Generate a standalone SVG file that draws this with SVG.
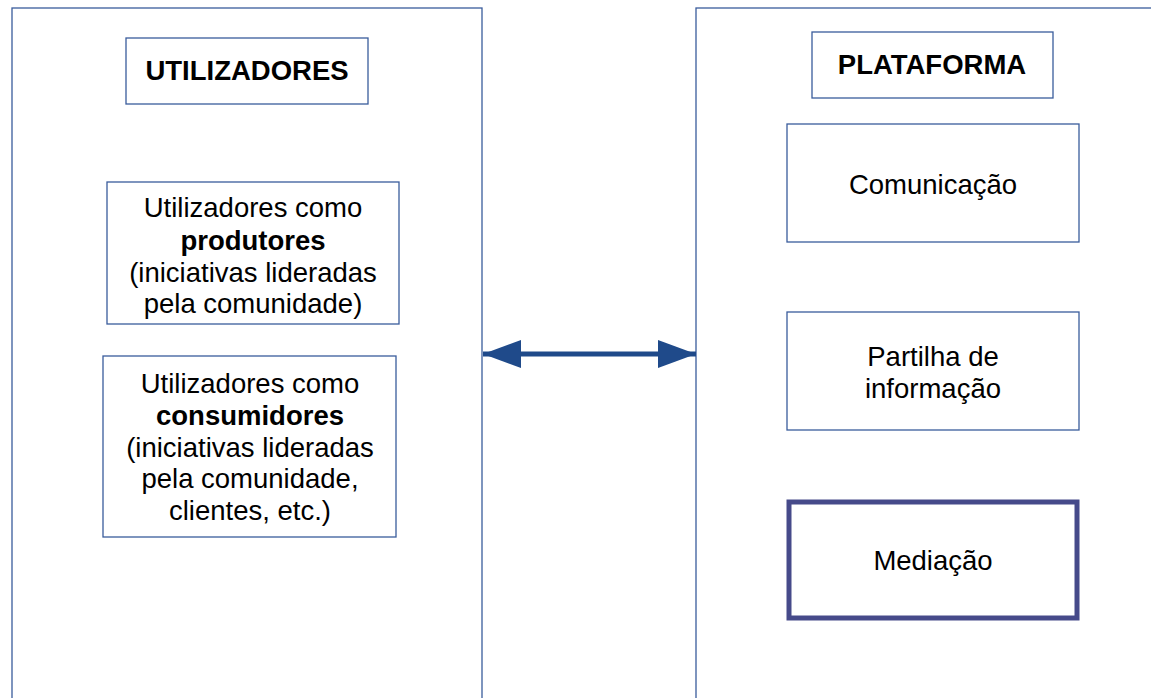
<svg xmlns="http://www.w3.org/2000/svg" width="1151" height="698" viewBox="0 0 1151 698">
<style>
.box{fill:#fff;stroke:#3a5c9c;stroke-width:1.3}
.t{font-family:"Liberation Sans",Arial,sans-serif;font-size:27.5px;fill:#000;text-anchor:middle}
.b{font-weight:bold}
</style>
<defs>
<marker id="ah" viewBox="0 0 38 28" refX="38" refY="14" markerWidth="38" markerHeight="28" markerUnits="userSpaceOnUse" orient="auto-start-reverse">
<path d="M0,0 L38,14 L0,28 Z" fill="#1f4a8a"/>
</marker>
</defs>
<rect width="1151" height="698" fill="#fff"/>
<g id="utilizadores-panel"><rect class="box" x="12" y="8" width="470" height="700"/></g>
<g id="plataforma-panel"><rect class="box" x="696" y="8" width="470" height="700"/></g>
<g id="utilizadores-title"><rect class="box" x="126" y="38" width="242" height="66"/><text class="t b" x="247" y="80">UTILIZADORES</text></g>
<g id="plataforma-title"><rect class="box" x="812" y="32" width="241" height="66"/><text class="t b" x="932" y="74">PLATAFORMA</text></g>
<g id="produtores"><rect class="box" x="107" y="182" width="292" height="142"/>
<text class="t" x="253"><tspan x="253" y="217">Utilizadores como</tspan><tspan x="253" y="249.5" class="b">produtores</tspan><tspan x="253" y="281.5">(iniciativas lideradas</tspan><tspan x="253" y="313">pela comunidade)</tspan></text></g>
<g id="consumidores"><rect class="box" x="103" y="356" width="293" height="181"/>
<text class="t" x="250"><tspan x="250" y="393">Utilizadores como</tspan><tspan x="250" y="425" class="b">consumidores</tspan><tspan x="250" y="457">(iniciativas lideradas</tspan><tspan x="250" y="488">pela comunidade,</tspan><tspan x="250" y="520">clientes, etc.)</tspan></text></g>
<g id="comunicacao"><rect class="box" x="787" y="124" width="292" height="118"/><text class="t" x="933" y="194">Comunicação</text></g>
<g id="partilha"><rect class="box" x="787" y="312" width="292" height="118"/><text class="t" x="933" y="366"><tspan x="933" y="366">Partilha de</tspan><tspan x="933" y="398">informação</tspan></text></g>
<g id="mediacao"><rect x="789" y="502" width="288" height="116" fill="#fff" stroke="#464a8a" stroke-width="5"/><text class="t" x="933" y="570">Mediação</text></g>
<g id="connectors"><line x1="483" y1="354" x2="696" y2="354" stroke="#1f4a8a" stroke-width="5" marker-start="url(#ah)" marker-end="url(#ah)"/></g>
</svg>
